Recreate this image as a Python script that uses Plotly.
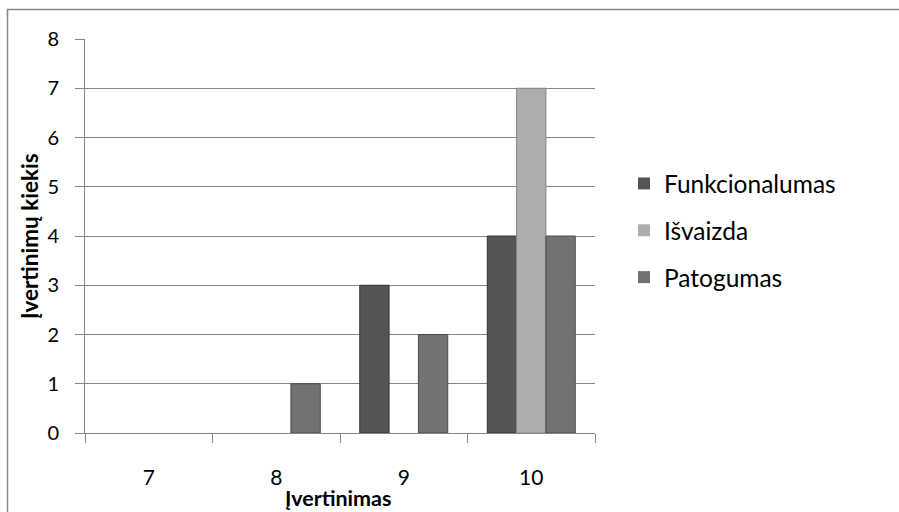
import plotly.graph_objects as go

categories = ["7", "8", "9", "10"]
funkcionalumas = [0, 0, 3, 4]
isvaizda = [0, 0, 0, 7]
patogumas = [0, 1, 2, 4]
y_ticks = [0, 1, 2, 3, 4, 5, 6, 7, 8]

FONT = "Lato"
fig = go.Figure()
series = [
    ("Funkcionalumas", funkcionalumas, "#555555", "#363636"),
    ("Išvaizda", isvaizda, "#adadad", "#858585"),
    ("Patogumas", patogumas, "#727272", "#4a4a4a"),
]
for name, vals, col, edge in series:
    fig.add_trace(go.Bar(
        x=categories, y=vals, name=name, legendgroup=name,
        marker=dict(color=col,
                    line=dict(color=edge, width=[1 if v else 0 for v in vals])),
    ))

W, H = 899, 512
L, R, T, B = 85, 304, 39, 79
pw, ph = W - L - R, H - T - B

def px(x):
    return (x - L) / pw

def py(y):
    return (H - B - y) / ph

fig.update_layout(
    width=W, height=H,
    margin=dict(l=L, r=R, t=T, b=B),
    paper_bgcolor="white", plot_bgcolor="white",
    barmode="group", bargap=0.31, bargroupgap=0,
    font=dict(family=FONT, size=20, color="#000000"),
    showlegend=True,
    legend=dict(
        x=px(624), y=py(161), xanchor="left", yanchor="top",
        font=dict(family=FONT, size=24.5, color="#000000"),
        tracegroupgap=12,
        bgcolor="rgba(0,0,0,0)",
    ),
    xaxis=dict(
        type="category", tickson="boundaries",
        ticks="outside", ticklen=9, tickcolor="#868686", tickwidth=1,
        showline=True, linecolor="#868686", linewidth=1,
        showgrid=False, ticklabelstandoff=26,
        tickfont=dict(family=FONT, size=21, color="#000000"),
    ),
    yaxis=dict(
        range=[0, 8], tickvals=y_ticks,
        ticks="outside", ticklen=9, tickcolor="#868686", tickwidth=1,
        showline=True, linecolor="#868686", linewidth=1,
        showgrid=True, gridcolor="#868686", gridwidth=1,
        zeroline=False, ticklabelstandoff=12,
        tickfont=dict(family=FONT, size=20, color="#000000"),
    ),
    shapes=[dict(
        type="rect", xref="paper", yref="paper",
        x0=px(7.5), x1=px(905), y0=py(520), y1=py(9.5),
        line=dict(color="#868686", width=1.5), fillcolor="rgba(0,0,0,0)",
        layer="below",
    )],
    annotations=[
        dict(text="<b>Įvertinimas</b>", xref="paper", yref="paper",
             x=px(338), y=py(498), xanchor="center", yanchor="middle",
             showarrow=False, font=dict(family=FONT, size=21.5, color="#000000")),
        dict(text="<b>Įvertinimų kiekis</b>", xref="paper", yref="paper",
             x=px(29), y=py(236), xanchor="center", yanchor="middle",
             textangle=-90, showarrow=False,
             font=dict(family=FONT, size=22.5, color="#000000")),
    ],
)

fig.write_html("out.html", config={"displayModeBar": False},
               post_script="document.body.style.margin='0';document.body.style.overflow='hidden';")
